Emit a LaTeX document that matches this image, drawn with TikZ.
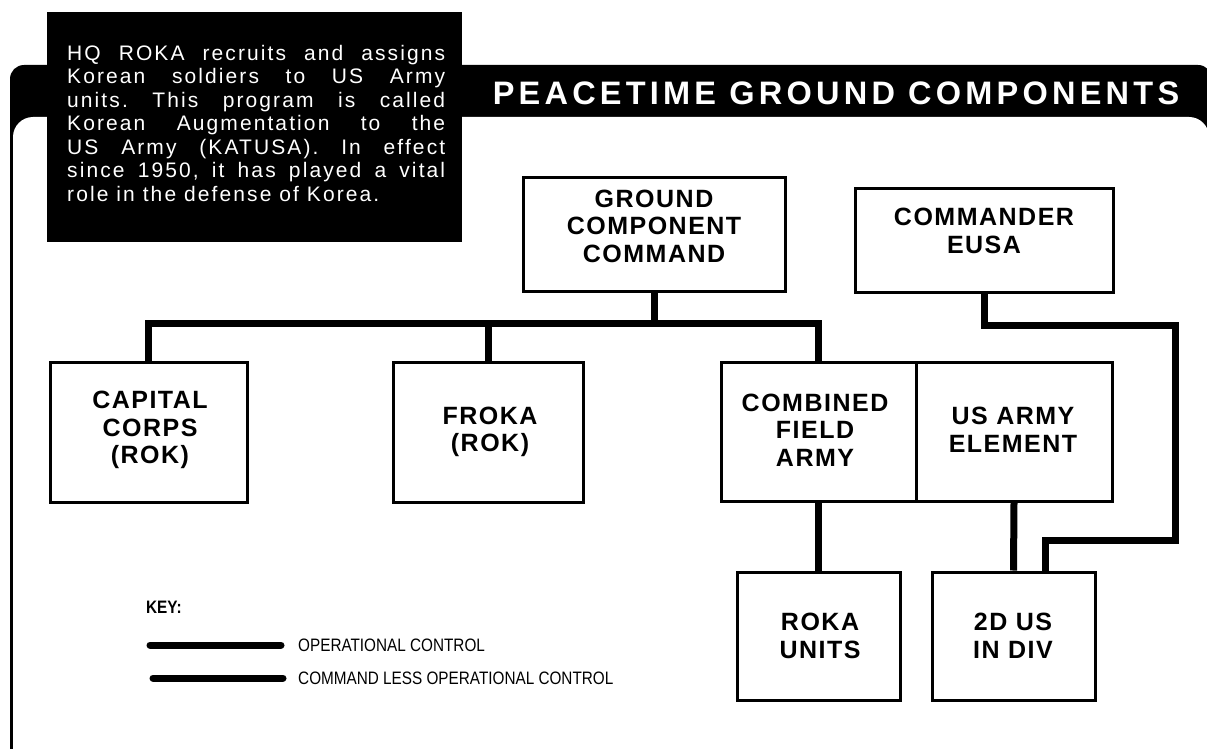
\documentclass[tikz,border=0pt]{standalone}
\usepackage{fontspec}
\setmainfont{Liberation Sans}
\newfontfamily\boxfont[LetterSpace=6]{Liberation Sans}
\newfontfamily\headfont[LetterSpace=13]{Liberation Sans}
\newfontfamily\callfont[LetterSpace=10]{Liberation Sans}
\newfontfamily\keyfont[FakeStretch=0.85]{Liberation Sans}
\tikzset{
  box/.style={draw=black, line width=3pt, fill=white, inner sep=0pt},
  lbl/.style={font=\boxfont\bfseries\fontsize{25}{27.5}\selectfont, align=center, inner sep=0pt},
  conn/.style={line width=7pt, line join=miter},
  keytxt/.style={font=\keyfont\fontsize{18}{20}\selectfont, inner sep=0pt, anchor=west},
  headtxt/.style={font=\headfont\bfseries\fontsize{32.5}{36}\selectfont, text=white, inner sep=0pt},
}
\begin{document}
\frenchspacing
\begin{tikzpicture}[x=1pt,y=-1pt]
\useasboundingbox (0,0) rectangle (1207,749);
\clip (0,0) rectangle (1207,749);
% frame with header band
\fill[black, rounded corners=14pt] (10,780) -- (10,65) -- (1212,65) -- (1212,780) -- cycle;
\fill[white, rounded corners=20pt] (13,790) -- (13,117) -- (1209,117) -- (1209,790) -- cycle;
\node[headtxt] (head) at (836,93) {PEACETIME GROUND COMPONENTS};
% callout
\node[fill=black, inner sep=0pt, minimum width=415pt, minimum height=230pt, anchor=north west] (callout) at (47,12) {};
\node[anchor=north west, inner sep=0pt, text=white] (callt) at (67,45) {\parbox{378pt}{\callfont\fontsize{21}{23.5}\selectfont\parindent=0pt\frenchspacing
HQ ROKA recruits and assigns\linebreak Korean soldiers to US Army\linebreak units. This program is called\linebreak Korean Augmentation to the\linebreak US Army (KATUSA). In effect\linebreak since 1950, it has played a vital\linebreak role in the defense of Korea.}};
% boxes
\node[box, minimum width=262pt, minimum height=114pt] (gcc) at (654,234) {};
\node[lbl] (gcct) at (654,226) {GROUND\\COMPONENT\\COMMAND};
\node[box, minimum width=258pt, minimum height=104pt] (cmdr) at (984,240) {};
\node[lbl] (cmdrt) at (984,231) {COMMANDER\\EUSA};
\node[box, minimum width=197pt, minimum height=140pt] (capital) at (148.5,432) {};
\node[lbl] (capitalt) at (150,430) {CAPITAL\\CORPS\\(ROK)};
\node[box, minimum width=190pt, minimum height=140pt] (froka) at (488,432) {};
\node[lbl] (frokat) at (490,432) {FROKA\\(ROK)};
\node[box, minimum width=195pt, minimum height=139pt] (cfa) at (818.5,431.5) {};
\node[lbl] (cfat) at (815,430) {COMBINED\\FIELD\\ARMY};
\node[box, minimum width=196pt, minimum height=139pt] (usae) at (1014,431.5) {};
\node[lbl] (usaet) at (1013,430) {US ARMY\\ELEMENT};
\node[box, minimum width=163pt, minimum height=128pt] (roka) at (818.5,636) {};
\node[lbl] (rokat) at (820,636) {ROKA\\UNITS};
\node[box, minimum width=163pt, minimum height=128pt] (div) at (1013.5,636) {};
\node[lbl] (divt) at (1013,636) {2D US\\IN DIV};
% connectors
\coordinate (bus) at (0,323);
\draw[conn] (capital.north) |- (cfa.north |- bus) -- (cfa.north);
\draw[conn] (froka.north) -- (froka.north |- bus);
\draw[conn] (gcc.south) -- (gcc.south |- bus);
\draw[conn] (cfa.south) -- (roka.north);
\draw[conn] (usae.south) -- (div.north);
\coordinate (c1) at (1175,325);
\coordinate (c2) at (1045,540);
\draw[conn] (cmdr.south) |- (c1) |- (c2) -- (c2 |- div.north);
% key
\node[font=\keyfont\bfseries\fontsize{18}{20}\selectfont, inner sep=0pt, anchor=west] (key) at (146,607) {KEY:};
\coordinate (k1a) at (150,645);
\coordinate (k1b) at (281,645);
\coordinate (k2a) at (153,678);
\coordinate (k2b) at (283,678);
\draw[conn, line cap=round] (k1a) -- (k1b);
\draw[conn, line cap=round] (k2a) -- (k2b);
\node[keytxt] (k1t) at (298,645) {OPERATIONAL CONTROL};
\node[keytxt] (k2t) at (298,678) {COMMAND LESS OPERATIONAL CONTROL};
\end{tikzpicture}
\end{document}
